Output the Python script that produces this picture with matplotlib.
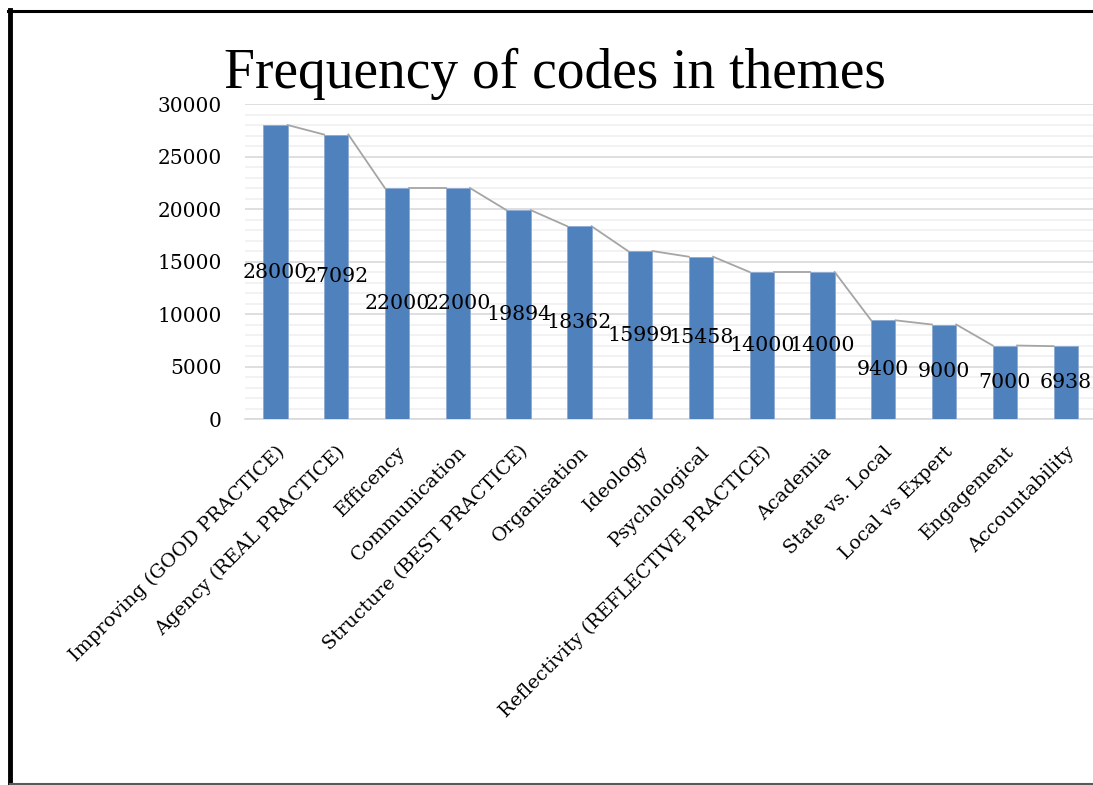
import matplotlib.pyplot as plt
from matplotlib.lines import Line2D
import numpy as np

themes = [
    "Improving (GOOD PRACTICE)",
    "Agency (REAL PRACTICE)",
    "Efficency",
    "Communication",
    "Structure (BEST PRACTICE)",
    "Organisation",
    "Ideology",
    "Psychological",
    "Reflectivity (REFLECTIVE PRACTICE)",
    "Academia",
    "State vs. Local",
    "Local vs Expert",
    "Engagement",
    "Accountability",
]
counts = [28000, 27092, 22000, 22000, 19894, 18362, 15999, 15458,
          14000, 14000, 9400, 9000, 7000, 6938]
y_ticks = [0, 5000, 10000, 15000, 20000, 25000, 30000]

plt.rcParams['font.family'] = ['DejaVu Serif']

bar_color = "#4F81BD"
bar_w = 0.4

fig = plt.figure(figsize=(10.93, 7.85), dpi=100)
ax = fig.add_axes([0.2242, 0.4662, 0.7786, 0.4013])

x = np.arange(len(counts))
ax.bar(x, counts, width=bar_w, color=bar_color, edgecolor="#8EAAD3",
       linewidth=0.6, zorder=3)

# series lines joining the tops of neighbouring bars
for i in range(len(counts) - 1):
    ax.plot([x[i] + bar_w / 2, x[i + 1] - bar_w / 2],
            [counts[i], counts[i + 1]],
            color="#A5A5A5", lw=1.3, zorder=2)

# value labels in the middle of each bar
for xi, v in zip(x, counts):
    ax.text(xi, v / 2, str(v), ha='center', va='center',
            fontsize=14.8, color='black', zorder=5)

ax.set_xlim(-0.5, len(counts) - 0.5)
ax.set_ylim(0, 30000)
ax.set_yticks(y_ticks)
ax.set_yticklabels([str(t) for t in y_ticks], fontsize=14.5)
ax.set_yticks(np.arange(0, 30001, 1000), minor=True)
ax.grid(axis='y', which='major', color="#D9D9D9", lw=1.2, zorder=0)
ax.grid(axis='y', which='minor', color="#F0F0F0", lw=1.2, zorder=0)
ax.tick_params(axis='y', which='both', length=0, pad=17)
ax.tick_params(axis='x', length=0, pad=17)

ax.set_xticks(x)
ax.set_xticklabels(themes, rotation=45, ha='right', rotation_mode='anchor',
                   fontsize=13.9)

for s in ['top', 'right', 'left']:
    ax.spines[s].set_visible(False)
ax.spines['bottom'].set_color("#D9D9D9")
ax.spines['bottom'].set_linewidth(1.2)

fig.text(0.508, 1 - 88 / 785, "Frequency of codes in themes", ha='center',
         va='baseline', fontsize=40, family='Liberation Serif')

# page frame
fig.add_artist(Line2D([10 / 1093, 10 / 1093], [1 - 10 / 785, 1 / 785],
                      color='black', lw=3.5, transform=fig.transFigure))
fig.add_artist(Line2D([8 / 1093, 1.0], [1 - 10.5 / 785, 1 - 10.5 / 785],
                      color='black', lw=2.2, transform=fig.transFigure))
fig.add_artist(Line2D([10 / 1093, 1.0], [1.5 / 785, 1.5 / 785],
                      color='#595959', lw=1.5, transform=fig.transFigure))

fig.savefig("out.png", dpi=100)
